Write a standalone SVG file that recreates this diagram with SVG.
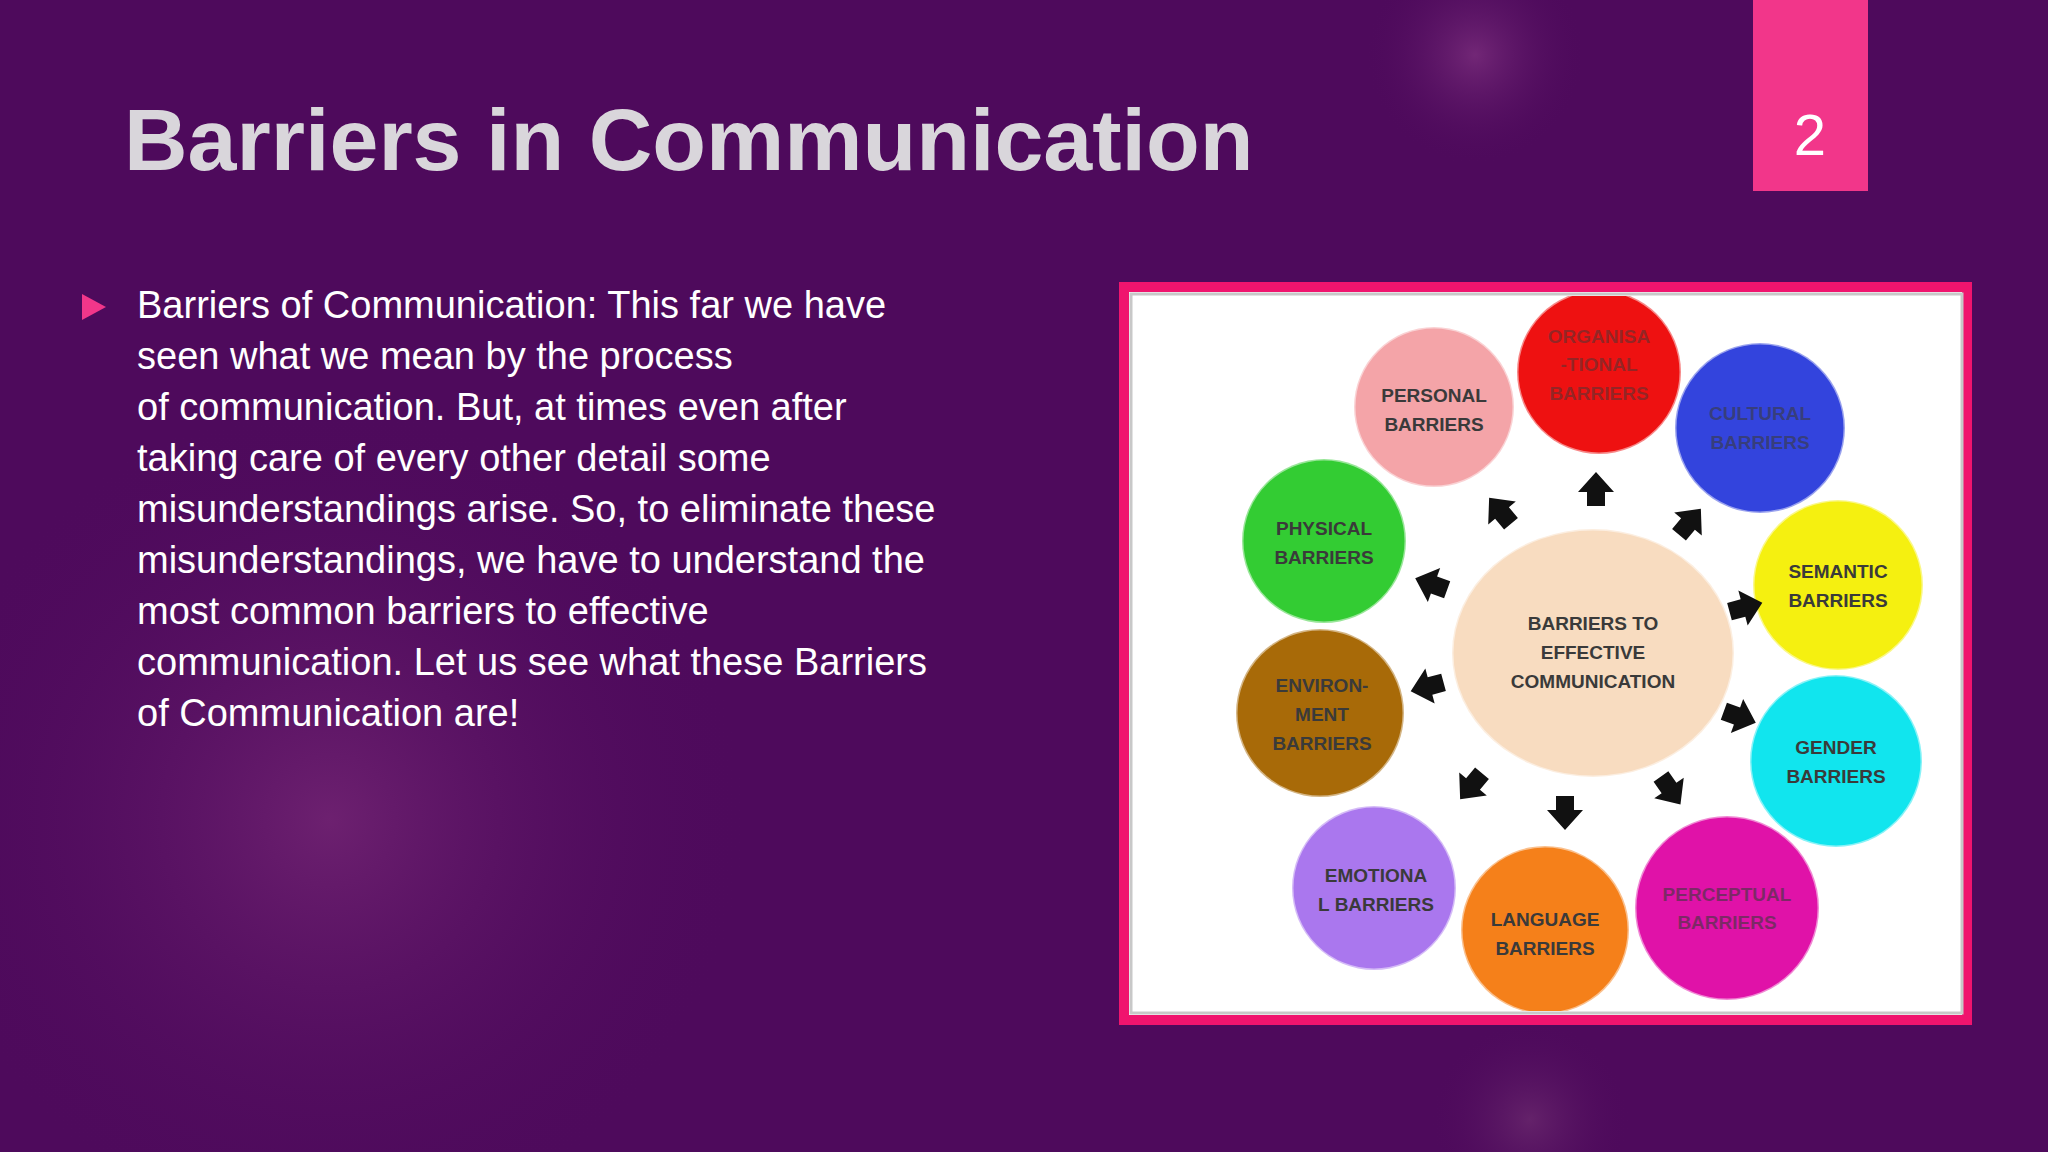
<svg xmlns="http://www.w3.org/2000/svg" width="2048" height="1152" viewBox="0 0 2048 1152">
<defs>
<radialGradient id="g1" cx="330" cy="820" r="420" gradientUnits="userSpaceOnUse"><stop offset="0" stop-color="#7a2a78" stop-opacity="0.7"/><stop offset="1" stop-color="#4e0a5c" stop-opacity="0"/></radialGradient>
<radialGradient id="g2" cx="1475" cy="55" r="110" gradientUnits="userSpaceOnUse"><stop offset="0" stop-color="#8a3a88" stop-opacity="0.6"/><stop offset="1" stop-color="#4e0a5c" stop-opacity="0"/></radialGradient>
<radialGradient id="g3" cx="1530" cy="1120" r="100" gradientUnits="userSpaceOnUse"><stop offset="0" stop-color="#7a3a78" stop-opacity="0.5"/><stop offset="1" stop-color="#4e0a5c" stop-opacity="0"/></radialGradient>
<clipPath id="pic"><rect x="1133" y="296" width="827" height="715"/></clipPath>
<polygon id="arr" points="-9,14 9,14 9,0 18,0 0,-20 -18,0 -9,0"/>
<style>
.body{font-family:"Liberation Sans",Arial,sans-serif;font-size:38px;fill:#ffffff}
.lbl{font-family:"Liberation Sans",Arial,sans-serif;font-size:19px;font-weight:bold;fill:#3a3a3a;text-anchor:middle}
.c{stroke:#ffffff;stroke-opacity:0.5;stroke-width:3}
</style>
</defs>
<rect width="2048" height="1152" fill="#4e0a5c"/>
<rect width="2048" height="1152" fill="url(#g1)"/>
<rect width="2048" height="1152" fill="url(#g2)"/>
<rect width="2048" height="1152" fill="url(#g3)"/>
<text x="124" y="170" font-family="Liberation Sans,Arial,sans-serif" font-size="88" font-weight="bold" fill="#d9d6db">Barriers in Communication</text>
<g id="pagenum"><rect x="1753" y="0" width="115" height="191" fill="#f2368a"/>
<text x="1810" y="155" font-family="Liberation Sans,Arial,sans-serif" font-size="58" fill="#fff" text-anchor="middle">2</text></g>
<polygon points="82,294 106,307 82,320" fill="#f2368a"/>
<text class="body">
<tspan x="137" y="318">Barriers of Communication: This far we have</tspan>
<tspan x="137" y="369">seen what we mean by the process</tspan>
<tspan x="137" y="420">of communication. But, at times even after</tspan>
<tspan x="137" y="471">taking care of every other detail some</tspan>
<tspan x="137" y="522">misunderstandings arise. So, to eliminate these</tspan>
<tspan x="137" y="573">misunderstandings, we have to understand the</tspan>
<tspan x="137" y="624">most common barriers to effective</tspan>
<tspan x="137" y="675">communication. Let us see what these Barriers</tspan>
<tspan x="137" y="726">of Communication are!</tspan>
</text>
<rect x="1124" y="287" width="843" height="733" fill="#ffffff" stroke="#f0146e" stroke-width="10"/>
<rect x="1131" y="294" width="831" height="719" fill="none" stroke="#c8c8c8" stroke-width="3"/>
<g clip-path="url(#pic)">
<g id="center"><ellipse cx="1593" cy="653" rx="141" ry="124" fill="#f8dcc0" class="c"/>
<text class="lbl"><tspan x="1593" y="630">BARRIERS TO</tspan><tspan x="1593" y="659">EFFECTIVE</tspan><tspan x="1593" y="688">COMMUNICATION</tspan></text></g>
<g id="personal"><circle cx="1434" cy="407" r="80" fill="#f4a4a8" class="c"/><text class="lbl"><tspan x="1434" y="402">PERSONAL</tspan><tspan x="1434" y="431">BARRIERS</tspan></text></g>
<g id="org"><circle cx="1599" cy="372" r="82" fill="#ee1111" class="c"/><text class="lbl" fill-opacity="0.5"><tspan x="1599" y="343">ORGANISA</tspan><tspan x="1599" y="371">-TIONAL</tspan><tspan x="1599" y="400">BARRIERS</tspan></text></g>
<g id="cultural"><circle cx="1760" cy="428" r="85" fill="#3344dd" class="c"/><text class="lbl" fill-opacity="0.6"><tspan x="1760" y="420">CULTURAL</tspan><tspan x="1760" y="449">BARRIERS</tspan></text></g>
<g id="semantic"><circle cx="1838" cy="585" r="85" fill="#f5f010" class="c"/><text class="lbl"><tspan x="1838" y="578">SEMANTIC</tspan><tspan x="1838" y="607">BARRIERS</tspan></text></g>
<g id="gender"><circle cx="1836" cy="761" r="86" fill="#11e5ee" class="c"/><text class="lbl"><tspan x="1836" y="754">GENDER</tspan><tspan x="1836" y="783">BARRIERS</tspan></text></g>
<g id="perceptual"><circle cx="1727" cy="908" r="92" fill="#e012a8" class="c"/><text class="lbl" fill-opacity="0.6"><tspan x="1727" y="901">PERCEPTUAL</tspan><tspan x="1727" y="929">BARRIERS</tspan></text></g>
<g id="language"><circle cx="1545" cy="930" r="84" fill="#f5801a" class="c"/><text class="lbl"><tspan x="1545" y="926">LANGUAGE</tspan><tspan x="1545" y="955">BARRIERS</tspan></text></g>
<g id="emotional"><circle cx="1374" cy="888" r="82" fill="#aa77ee" class="c"/><text class="lbl"><tspan x="1376" y="882">EMOTIONA</tspan><tspan x="1376" y="911">L BARRIERS</tspan></text></g>
<g id="environment"><circle cx="1320" cy="713" r="84" fill="#a86a08" class="c"/><text class="lbl"><tspan x="1322" y="692">ENVIRON-</tspan><tspan x="1322" y="721">MENT</tspan><tspan x="1322" y="750">BARRIERS</tspan></text></g>
<g id="physical"><circle cx="1324" cy="541" r="82" fill="#33cc33" class="c"/><text class="lbl"><tspan x="1324" y="535">PHYSICAL</tspan><tspan x="1324" y="564">BARRIERS</tspan></text></g>
</g>
<g id="connectors" fill="#111">
<use href="#arr" transform="translate(1596,492)"/>
<use href="#arr" transform="translate(1688,524) rotate(40)"/>
<use href="#arr" transform="translate(1743,608) rotate(75)"/>
<use href="#arr" transform="translate(1737,716) rotate(110)"/>
<use href="#arr" transform="translate(1669,788) rotate(145)"/>
<use href="#arr" transform="translate(1565,810) rotate(180)"/>
<use href="#arr" transform="translate(1473,784) rotate(220)"/>
<use href="#arr" transform="translate(1430,686) rotate(255)"/>
<use href="#arr" transform="translate(1434,585) rotate(290)"/>
<use href="#arr" transform="translate(1502,513) rotate(320)"/>
</g>
</svg>
